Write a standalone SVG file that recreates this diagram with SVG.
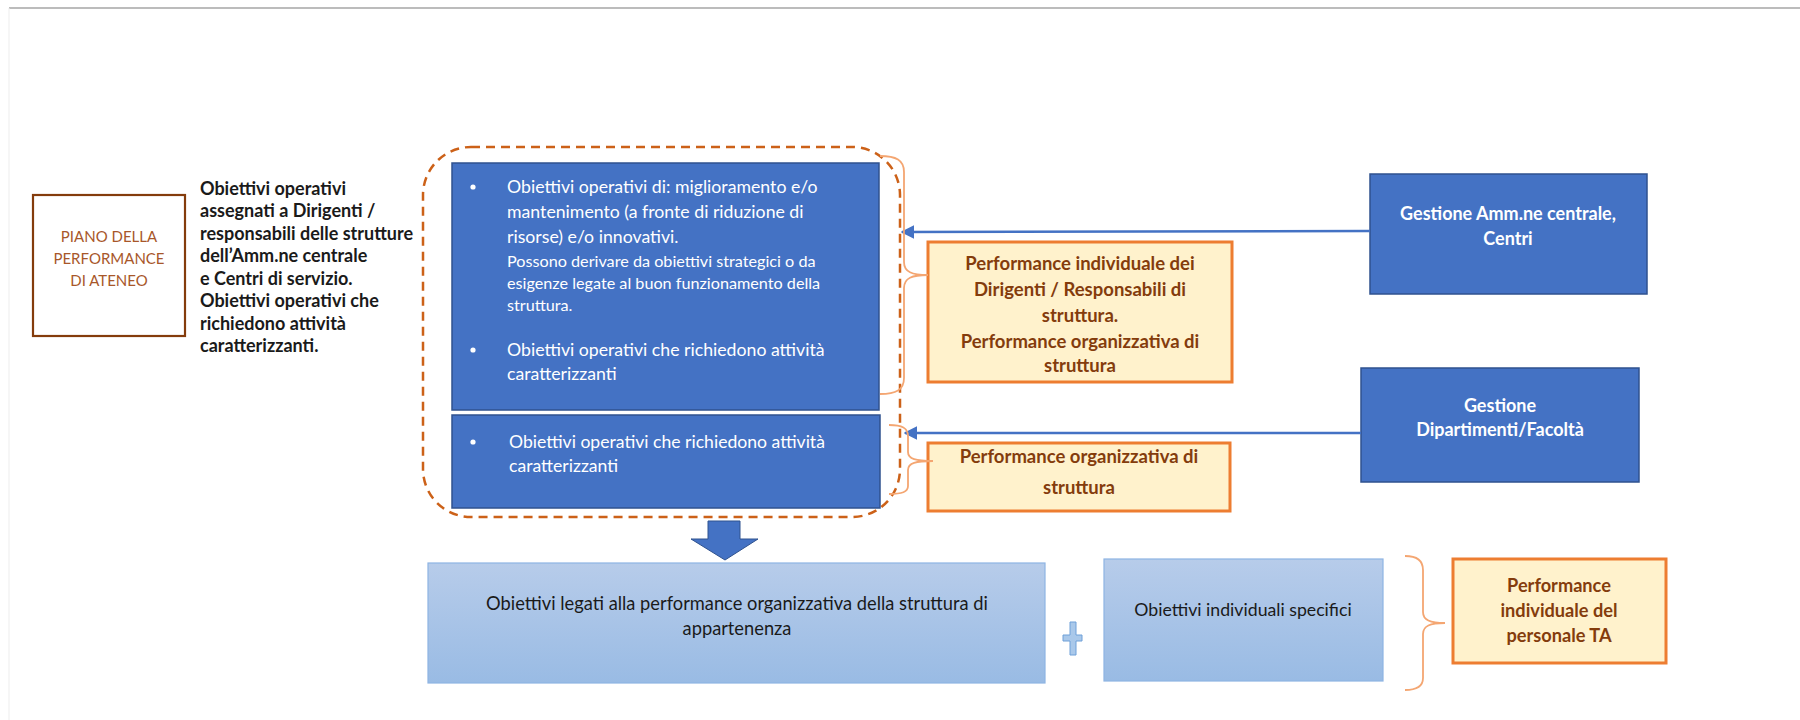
<svg xmlns="http://www.w3.org/2000/svg" width="1800" height="720" viewBox="0 0 1800 720">
<style>
.blue{fill:#4472C4;stroke:#2F528F;stroke-width:1.5}
.orange{fill:#FFF2CC;stroke:#ED7D31;stroke-width:3}
.lb{stroke:#8EB4E3;stroke-width:1.2;fill:url(#lbg)}
.brace{fill:none;stroke:#F4A672;stroke-width:1.8}
.conn{stroke:#4472C4;stroke-width:2.5;fill:none}
.w{font-family:Lato,"Liberation Sans",sans-serif;fill:#FFFFFF}
.wb{font-family:Lato,"Liberation Sans",sans-serif;fill:#FFFFFF;font-weight:bold;text-anchor:middle}
.br{font-family:Lato,"Liberation Sans",sans-serif;fill:#843C0C;font-weight:bold;text-anchor:middle}
.dk{font-family:Lato,"Liberation Sans",sans-serif;fill:#1A1A1A}
</style>
<defs>
<linearGradient id="lbg" x1="0" y1="0" x2="0" y2="1">
<stop offset="0" stop-color="#B7CCEA"/>
<stop offset="1" stop-color="#99BBE4"/>
</linearGradient>
<marker id="ah" viewBox="0 0 10 10" refX="9" refY="5" markerWidth="5.5" markerHeight="5.5" orient="auto" markerUnits="strokeWidth">
<path d="M0,0 L10,5 L0,10 z" fill="#4472C4"/>
</marker>
</defs>
<rect width="1800" height="720" fill="#FFFFFF"/>
<line x1="9" y1="8" x2="1800" y2="8" stroke="#A6A6A6" stroke-width="1.5"/>
<line x1="9" y1="8" x2="9" y2="720" stroke="#EDEDED" stroke-width="1"/>

<g id="piano">
<rect x="33" y="195" width="152" height="141" fill="#FFFFFF" stroke="#843C0C" stroke-width="2.2"/>
<text font-family="Lato,'Liberation Sans',sans-serif" font-size="15" fill="#A8572A" text-anchor="middle"><tspan x="109" y="242">PIANO DELLA</tspan><tspan x="109" y="264">PERFORMANCE</tspan><tspan x="109" y="286">DI ATENEO</tspan></text>
</g>

<g id="left-text">
<text class="dk" font-size="18" font-weight="bold"><tspan x="200" y="195">Obiettivi operativi</tspan><tspan x="200" y="217">assegnati a Dirigenti /</tspan><tspan x="200" y="240">responsabili delle strutture</tspan><tspan x="200" y="262">dell’Amm.ne centrale</tspan><tspan x="200" y="285">e Centri di servizio.</tspan><tspan x="200" y="307">Obiettivi operativi che</tspan><tspan x="200" y="330">richiedono attività</tspan><tspan x="200" y="352">caratterizzanti.</tspan></text>
</g>

<g id="group-dashed">
<rect x="423" y="147" width="477" height="370" rx="48" ry="48" fill="none" stroke="#CC6118" stroke-width="2.5" stroke-dasharray="9 6"/>
</g>

<g id="box-obiettivi-1">
<rect class="blue" x="452" y="163" width="427" height="247"/>
<circle cx="473" cy="187" r="2.6" fill="#FFFFFF"/>
<text class="w" font-size="17.7"><tspan x="507" y="193">Obiettivi operativi di: miglioramento e/o</tspan><tspan x="507" y="218">mantenimento (a fronte di riduzione di</tspan><tspan x="507" y="243">risorse) e/o innovativi.</tspan></text>
<text class="w" font-size="16.2"><tspan x="507" y="267">Possono derivare da obiettivi strategici o da</tspan><tspan x="507" y="289">esigenze legate al buon funzionamento della</tspan><tspan x="507" y="311">struttura.</tspan></text>
<circle cx="473" cy="350" r="2.6" fill="#FFFFFF"/>
<text class="w" font-size="17.7"><tspan x="507" y="356">Obiettivi operativi che richiedono attività</tspan><tspan x="507" y="380">caratterizzanti</tspan></text>
</g>

<g id="box-obiettivi-2">
<rect class="blue" x="452" y="415" width="428" height="93"/>
<circle cx="473" cy="442" r="2.6" fill="#FFFFFF"/>
<text class="w" font-size="17.6"><tspan x="509" y="448">Obiettivi operativi che richiedono attività</tspan><tspan x="509" y="472">caratterizzanti</tspan></text>
</g>

<g id="perf-1">
<rect class="orange" x="928" y="242" width="304" height="140"/>
<text class="br" font-size="18.5"><tspan x="1080" y="270">Performance individuale dei</tspan><tspan x="1080" y="296">Dirigenti / Responsabili di</tspan><tspan x="1080" y="322">struttura.</tspan><tspan x="1080" y="348">Performance organizzativa di</tspan><tspan x="1080" y="372">struttura</tspan></text>
</g>

<g id="perf-2">
<rect class="orange" x="928" y="443" width="302" height="68"/>
<text class="br" font-size="18.5"><tspan x="1079" y="463">Performance organizzativa di</tspan><tspan x="1079" y="494">struttura</tspan></text>
</g>

<g id="gestione-1">
<rect class="blue" x="1370" y="174" width="277" height="120"/>
<text class="wb" font-size="18"><tspan x="1508" y="220">Gestione Amm.ne centrale,</tspan><tspan x="1508" y="245">Centri</tspan></text>
</g>

<g id="gestione-2">
<rect class="blue" x="1361" y="368" width="278" height="114"/>
<text class="wb" font-size="18"><tspan x="1500" y="412">Gestione</tspan><tspan x="1500" y="436">Dipartimenti/Facoltà</tspan></text>
</g>

<g id="obiettivi-legati">
<rect class="lb" x="428" y="563" width="617" height="120"/>
<text class="dk" font-size="18.3" text-anchor="middle"><tspan x="737" y="610">Obiettivi legati alla performance organizzativa della struttura di</tspan><tspan x="737" y="635">appartenenza</tspan></text>
</g>

<g id="obiettivi-individuali">
<rect class="lb" x="1104" y="559" width="279" height="122"/>
<text class="dk" font-size="17.7" text-anchor="middle" x="1243" y="616">Obiettivi individuali specifici</text>
</g>

<g id="perf-3">
<rect class="orange" x="1453" y="559" width="213" height="104"/>
<text class="br" font-size="18.2"><tspan x="1559" y="592">Performance</tspan><tspan x="1559" y="617">individuale del</tspan><tspan x="1559" y="642">personale TA</tspan></text>
</g>

<g id="plus">
<path d="M1070,622 H1076 V635 H1082 V641 H1076 V655 H1070 V641 H1063 V635 H1070 Z" fill="#A9C8EA" stroke="#6FA0D8" stroke-width="1"/>
</g>

<g id="connectors">
<line class="conn" x1="1370" y1="231" x2="902" y2="232" marker-end="url(#ah)"/>
<line class="conn" x1="1361" y1="433" x2="905" y2="433" marker-end="url(#ah)"/>
<path d="M708,521 H740 V539 H758 L725,560 L691,539 H708 Z" fill="#4472C4" stroke="#2F528F" stroke-width="1"/>
<path class="brace" d="M880,156 C896,156 904,160 904,172 L904,262 C904,272 912,275 928,275 C912,275 904,278 904,288 L904,378 C904,390 896,394 880,394"/>
<path class="brace" d="M889,425 C902,425 908,428 908,436 L908,452 C908,459 916,461 933,461 C916,461 908,463 908,470 L908,486 C908,492 902,494 889,494"/>
<path class="brace" d="M1405,556 C1417,556 1423,560 1423,570 L1423,612 C1423,620 1430,623 1445,623 C1430,623 1423,626 1423,634 L1423,678 C1423,686 1417,690 1405,690"/>
</g>
</svg>
